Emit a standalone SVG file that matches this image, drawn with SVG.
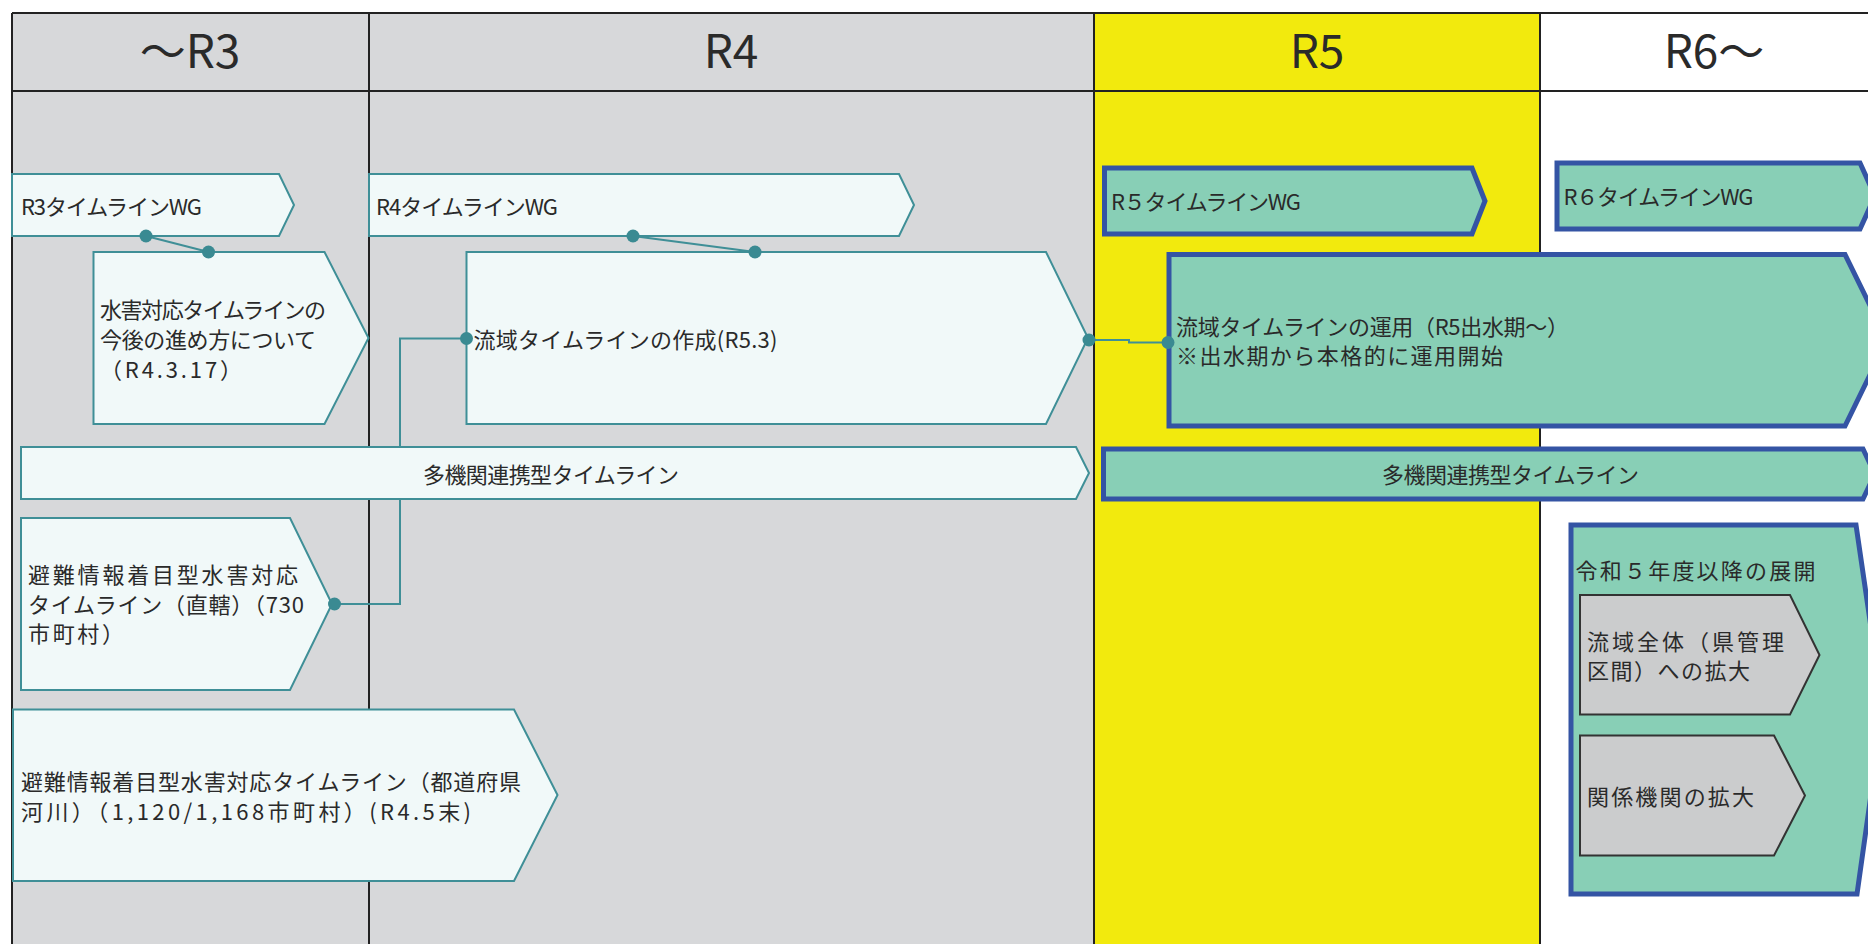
<svg xmlns="http://www.w3.org/2000/svg" width="1868" height="944" viewBox="0 0 1868 944">
<style>
.lt{fill:#f1f9f9;stroke:#3f8f97;stroke-width:2}
.gr{fill:#88cfb6;stroke:#3454a4;stroke-width:5}
.gy{fill:#cbcccd;stroke:#333333;stroke-width:2}
.t{font-family:"Noto Sans CJK JP","Noto Sans",sans-serif;font-size:22px;fill:#2a2a2a}
.h{font-size:46px;text-anchor:middle}
.ln{stroke:#222222;stroke-width:2;fill:none}
.cn{fill:none;stroke:#3f8f97;stroke-width:2}
</style>
<defs>
<marker id="dot" markerUnits="userSpaceOnUse" markerWidth="16" markerHeight="16" refX="8" refY="8" viewBox="0 0 16 16">
<circle cx="8" cy="8" r="6.5" fill="#3a8a92"/>
</marker>
</defs>
<rect width="1868" height="944" fill="#ffffff"/>
<g id="columns">
<rect x="12" y="13" width="1082" height="931" fill="#d7d8da"/>
<rect x="1094" y="13" width="446" height="931" fill="#f2ea0d"/>
<rect x="1540" y="13" width="328" height="931" fill="#ffffff"/>
<line class="ln" x1="12" y1="13" x2="1868" y2="13"/>
<line class="ln" x1="12" y1="91" x2="1868" y2="91"/>
<line class="ln" x1="12" y1="13" x2="12" y2="944"/>
<line class="ln" x1="369" y1="13" x2="369" y2="944"/>
<line class="ln" x1="1094" y1="13" x2="1094" y2="944"/>
<line class="ln" x1="1540" y1="13" x2="1540" y2="944"/>
<text class="t h" x="190" y="68">～R3</text>
<text class="t h" x="731" y="68">R4</text>
<text class="t h" x="1317" y="68">R5</text>
<text class="t h" x="1714" y="68">R6～</text>
</g>
<g id="r3wg">
<polygon class="lt" points="12,174 279,174 294,205 279,236 12,236"/>
<text class="t" x="21" y="215" textLength="181">R3タイムラインWG</text>
</g>
<g id="suigai">
<polygon class="lt" points="93.5,252 324.5,252 368.5,338 324.5,424 93.5,424"/>
<text class="t" x="100" y="318" textLength="226">水害対応タイムラインの</text>
<text class="t" x="100" y="348" textLength="216">今後の進め方について</text>
<text class="t" x="100" y="378" textLength="142">（R4.3.17）</text>
</g>
<g id="r4wg">
<polygon class="lt" points="369,174 899,174 914,205 899,236 369,236"/>
<text class="t" x="376" y="215" textLength="182">R4タイムラインWG</text>
</g>
<g id="sakusei">
<polygon class="lt" points="466.5,252 1046,252 1088,338 1046,424 466.5,424"/>
<text class="t" x="473.5" y="348" textLength="304">流域タイムラインの作成(R5.3)</text>
</g>
<g id="takikan1">
<polygon class="lt" points="21,447 1076,447 1089,473 1076,499 21,499"/>
<text class="t" x="423" y="483" textLength="256">多機関連携型タイムライン</text>
</g>
<g id="chokkatsu">
<polygon class="lt" points="21,518 290,518 332,604 290,690 21,690"/>
<text class="t" x="28" y="583" textLength="270">避難情報着目型水害対応</text>
<text class="t" x="28" y="612.5" textLength="276">タイムライン（直轄）（730</text>
<text class="t" x="28" y="642" textLength="96">市町村）</text>
</g>
<g id="todofuken">
<polygon class="lt" points="13,709.5 514,709.5 557.5,795 514,881 13,881"/>
<text class="t" x="21" y="790" textLength="500">避難情報着目型水害対応タイムライン（都道府県</text>
<text class="t" x="21" y="820" textLength="450">河川）（1,120/1,168市町村）(R4.5末)</text>
</g>
<g id="r5wg">
<polygon class="gr" points="1104.5,168 1472,168 1485,201 1472,234 1104.5,234"/>
<text class="t" x="1111" y="210" textLength="190">R５タイムラインWG</text>
</g>
<g id="r6wg">
<polygon class="gr" points="1557,163 1860,163 1875,196 1860,229 1557,229"/>
<text class="t" x="1563.5" y="205" textLength="190">R６タイムラインWG</text>
</g>
<g id="unyou">
<polygon class="gr" points="1169,254.5 1845,254.5 1887,340 1845,426 1169,426"/>
<text class="t" x="1176" y="335" textLength="393">流域タイムラインの運用（R5出水期～）</text>
<text class="t" x="1176" y="364" textLength="327">※出水期から本格的に運用開始</text>
</g>
<g id="takikan2">
<polygon class="gr" points="1103.5,449 1863,449 1875,474 1863,499 1103.5,499"/>
<text class="t" x="1382" y="483" textLength="257">多機関連携型タイムライン</text>
</g>
<g id="tenkai">
<polygon class="gr" points="1571,525 1856,525 1883,709.5 1857,894 1571,894"/>
<text class="t" x="1575.5" y="579" textLength="240">令和５年度以降の展開</text>
</g>
<g id="zentai">
<polygon class="gy" points="1580,595 1790,595 1819.5,655 1790,714.5 1580,714.5"/>
<text class="t" x="1587" y="650" textLength="197">流域全体（県管理</text>
<text class="t" x="1587" y="679" textLength="163">区間）への拡大</text>
</g>
<g id="kankei">
<polygon class="gy" points="1580,735.5 1774,735.5 1805,795.5 1774,855.5 1580,855.5"/>
<text class="t" x="1587" y="805" textLength="167">関係機関の拡大</text>
</g>
<g id="connectors">
<path class="cn" marker-start="url(#dot)" marker-end="url(#dot)" d="M146,236 L208.5,252"/>
<path class="cn" marker-start="url(#dot)" marker-end="url(#dot)" d="M633,236 L755,252"/>
<path class="cn" marker-start="url(#dot)" marker-end="url(#dot)" d="M334.5,604 H400 V499 M400,447 V338.5 H466.5"/>
<path class="cn" marker-start="url(#dot)" marker-end="url(#dot)" d="M1089,340 H1129 V342.5 H1168"/>
</g>
</svg>
